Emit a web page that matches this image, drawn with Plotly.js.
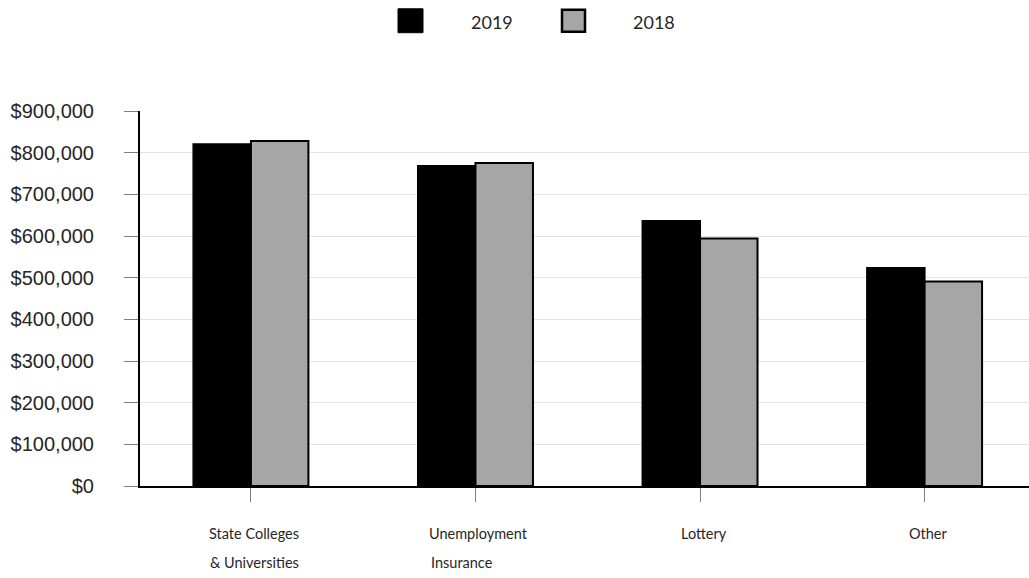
<!DOCTYPE html>
<html>
<head>
<meta charset="utf-8">
<script src="https://cdn.plot.ly/plotly-3.0.1.min.js"></script>
<style>html,body{margin:0;padding:0;background:#fff;}#chart{width:1029px;height:578px;}</style>
</head>
<body>
<div id="chart"></div>
<script>
// ---- data ----
var categories = ["State Colleges", "Unemployment", "Lottery", "Other"];
var categoryLine2 = ["& Universities", "Insurance", "", ""];
var seriesNames = ["2019", "2018"];
var values2019 = [820000, 768000, 636000, 523000];
var values2018 = [828000, 775000, 594000, 491000];
var yTickVals = [0, 100000, 200000, 300000, 400000, 500000, 600000, 700000, 800000, 900000];
var yTickText = ["$0", "$100,000", "$200,000", "$300,000", "$400,000", "$500,000", "$600,000", "$700,000", "$800,000", "$900,000"];

// ---- geometry helpers ----
var W = 1029, H = 578;
var mL = 140, mR = 0, mT = 110.5, mB = 91.5;
var pw = W - mL - mR, ph = H - mT - mB;
function px2x(px) { return (px - mL) / pw; }
function py2y(py) { return (H - mB - py) / ph; }

var labelFont = {family: "Lato, 'Open Sans', sans-serif", size: 14.5, color: "#262626"};
function measure(text, font) {
  var c = document.createElement("canvas").getContext("2d");
  c.font = font.size + "px " + font.family;
  return c.measureText(text).width;
}

var idx = categories.map(function (_, i) { return i; });

var traces = [
  {type: "bar", name: seriesNames[0], x: idx, y: values2019,
   marker: {color: "#000000", line: {color: "#000000", width: 2}}, showlegend: false},
  {type: "bar", name: seriesNames[1], x: idx, y: values2018,
   marker: {color: "#a6a6a6", line: {color: "#000000", width: 2}}, showlegend: false}
];

var annotations = [];
categories.forEach(function (c, i) {
  annotations.push({x: i, xref: "x", y: 0, yref: "paper", yshift: -47.5, xshift: 3.5,
    xanchor: "center", yanchor: "middle", text: c, showarrow: false, borderpad: 0, font: labelFont});
  if (categoryLine2[i]) {
    var w1 = measure(c, labelFont);
    annotations.push({x: i, xref: "x", y: 0, yref: "paper", yshift: -76.5, xshift: 3.5 - w1 / 2,
      xanchor: "left", yanchor: "middle", text: categoryLine2[i], showarrow: false, borderpad: 0, font: labelFont});
  }
});

// legend drawn as shapes + text
var legendFont = {family: "Lato, 'Open Sans', sans-serif", size: 18, color: "#262626"};
var shapes = [
  {type: "rect", xref: "paper", yref: "paper", x0: px2x(398), x1: px2x(423), y0: py2y(32), y1: py2y(8),
   fillcolor: "#000000", line: {color: "#000000", width: 1}},
  {type: "rect", xref: "paper", yref: "paper", x0: px2x(562), x1: px2x(585), y0: py2y(31), y1: py2y(9),
   fillcolor: "#a6a6a6", line: {color: "#000000", width: 2.5}}
];
annotations.push({xref: "paper", yref: "paper", x: px2x(470), y: py2y(21), xanchor: "left", yanchor: "middle",
  text: seriesNames[0], showarrow: false, borderpad: 0, font: legendFont});
annotations.push({xref: "paper", yref: "paper", x: px2x(632), y: py2y(21), xanchor: "left", yanchor: "middle",
  text: seriesNames[1], showarrow: false, borderpad: 0, font: legendFont});

var layout = {
  width: W, height: H,
  margin: {l: mL, r: mR, t: mT, b: mB, pad: 0},
  paper_bgcolor: "#ffffff", plot_bgcolor: "#ffffff",
  barmode: "group", bargap: 0.488, bargroupgap: 0,
  showlegend: false,
  xaxis: {
    type: "linear", range: [-0.494, 3.465], tickvals: idx, ticktext: categories.map(function(){return "";}),
    showgrid: false, zeroline: false, showline: true, linecolor: "#000000", linewidth: 2,
    ticks: "outside", ticklen: 14, tickcolor: "#7f7f7f", tickwidth: 1, fixedrange: true
  },
  yaxis: {
    range: [0, 900000], tickvals: yTickVals, ticktext: yTickText,
    showgrid: true, gridcolor: "#e3e3e3", gridwidth: 1, zeroline: false,
    showline: true, linecolor: "#000000", linewidth: 2,
    ticks: "outside", ticklen: 14, tickcolor: "#7f7f7f", tickwidth: 1,
    ticklabelstandoff: 26,
    tickfont: {family: "'Liberation Sans', Arial, sans-serif", size: 20, color: "#262626"}
  },
  shapes: shapes,
  annotations: annotations
};

Plotly.newPlot("chart", traces, layout, {displayModeBar: false, staticPlot: true});
</script>
</body>
</html>
